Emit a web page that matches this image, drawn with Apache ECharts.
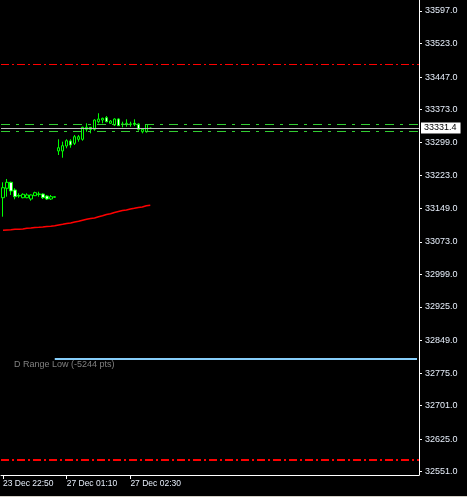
<!DOCTYPE html>
<html>
<head>
<meta charset="utf-8">
<script src="https://cdn.jsdelivr.net/npm/echarts@6/dist/echarts.min.js"></script>
<style>
html,body{margin:0;padding:0;background:#000;}
#chart{width:467px;height:497px;}
</style>
</head>
<body>
<div id="chart"></div>
<script>
// ---- data ----
const categories = [
  '23 Dec 22:50','23 Dec 22:55','23 Dec 23:00','23 Dec 23:05','23 Dec 23:10','23 Dec 23:15','23 Dec 23:20',
  '23 Dec 23:25','23 Dec 23:30','23 Dec 23:35','23 Dec 23:40','23 Dec 23:45','23 Dec 23:50','23 Dec 23:55',
  '27 Dec 01:00','27 Dec 01:05','27 Dec 01:10','27 Dec 01:15','27 Dec 01:20','27 Dec 01:25','27 Dec 01:30',
  '27 Dec 01:35','27 Dec 01:40','27 Dec 01:45','27 Dec 01:50','27 Dec 01:55','27 Dec 02:00','27 Dec 02:05',
  '27 Dec 02:10','27 Dec 02:15','27 Dec 02:20','27 Dec 02:25','27 Dec 02:30','27 Dec 02:35','27 Dec 02:40',
  '27 Dec 02:45','27 Dec 02:50','27 Dec 02:55'
];
const opens  = [33173.1,33194.5,33208.1,33190.6,33178.1,33173.1,33173.1,33170.2,33177.7,33181.5,33181.5,33177.0,33170.2,33174.0,
                33279.2,33279.2,33290.5,33301.9,33296.6,33305.7,33305.7,33328.4,33332.9,33328.4,33345.7,33349.5,33354.8,33342.0,
                33338.2,33351.8,33340.5,33339.8,33340.5,33342.0,33340.5,33322.9,33322.9,33330.2];
const closes = [33195.8,33208.1,33188.3,33175.4,33177.0,33180.8,33179.3,33179.3,33184.5,33180.8,33173.1,33170.2,33175.4,33175.4,
                33286.6,33291.2,33302.5,33292.8,33311.6,33311.6,33332.9,33332.9,33328.4,33349.5,33351.8,33353.4,33345.7,33347.3,
                33351.8,33336.6,33339.8,33342.0,33339.8,33339.8,33328.4,33328.4,33339.3,33331.4];
const lows   = [33130.0,33175.4,33179.3,33169.5,33173.1,33171.8,33171.8,33166.3,33177.0,33175.4,33170.2,33167.9,33167.9,33173.1,
                33270.1,33263.9,33285.3,33286.6,33292.8,33300.3,33302.5,33322.9,33319.3,33325.2,33342.0,33342.0,33344.3,33340.5,
                33335.9,33335.9,33332.9,33334.3,33334.3,33335.9,33325.2,33319.3,33320.7,33330.2];
const highs  = [33208.1,33215.6,33209.5,33194.5,33183.1,33183.1,33183.1,33180.4,33186.7,33186.7,33183.1,33179.3,33179.3,33176.3,
                33305.7,33300.3,33305.7,33305.7,33315.5,33315.5,33334.3,33342.0,33333.6,33351.1,33364.8,33354.8,33358.6,33349.5,
                33353.4,33353.4,33345.7,33351.1,33345.7,33351.1,33342.0,33330.7,33340.5,33332.5];
const maValues = [33099.3,33099.8,33100.2,33101.4,33101.6,33102.1,33103.6,33104.3,33105.5,33105.9,33106.6,33107.7,33108.2,33109.3,
                  33111.1,33112.7,33114.5,33115.7,33117.9,33119.5,33121.8,33124.1,33125.9,33127.0,33129.8,33132.3,33135.0,33136.6,
                  33139.5,33141.8,33144.1,33145.2,33147.5,33149.1,33150.9,33152.0,33154.8,33155.9];
const yTicks = [32551,32625,32701,32775,32849,32925,32999,33073,33149,33223,33299,33373,33447,33523,33597];
const xTickLabels = ['23 Dec 22:50','27 Dec 01:10','27 Dec 02:30'];
const levelRedTop = 33476.7;
const levelGreenTop = 33339.8;
const levelBid = 33331.4;
const levelGreenLow = 33323.9;
const levelRangeLow = 32808.0;
const levelRedLow = 32577.6;
const rangeLowText = 'D Range Low (-5244 pts)';
const bidText = '33331.4';

// ---- build ----
const TOTAL_SLOTS = 105;
const axisCats = categories.slice();
for (let i = axisCats.length; i < TOTAL_SLOTS; i++) axisCats.push('#' + i);
const candleData = opens.map((o, i) => [o, closes[i], lows[i], highs[i]]);
const showTick = (idx, name) => xTickLabels.indexOf(name) >= 0;
const FONT = 'Liberation Sans';

const chart = echarts.init(document.getElementById('chart'), null, {renderer: 'canvas'});
chart.setOption({
  backgroundColor: '#000000',
  animation: false,
  grid: {left: 0, right: 48, top: 0, bottom: 22, containLabel: false},
  xAxis: {
    type: 'category',
    data: axisCats,
    boundaryGap: true,
    axisLine: {lineStyle: {color: '#ffffff', width: 1}},
    axisTick: {show: true, alignWithLabel: true, interval: showTick, length: 4, lineStyle: {color: '#ffffff'}},
    axisLabel: {interval: showTick, align: 'left', margin: 4, color: '#e6eefa', fontSize: 8.5,
                fontFamily: FONT, lineHeight: 10},
    splitLine: {show: false}
  },
  yAxis: {
    type: 'value',
    position: 'right',
    min: 32543.5,
    max: 33622,
    scale: true,
    axisLine: {show: true, lineStyle: {color: '#ffffff', width: 1}},
    axisTick: {show: true, length: 3, customValues: yTicks, lineStyle: {color: '#ffffff'}},
    axisLabel: {customValues: yTicks, margin: 6, color: '#e6eefa', fontSize: 9, fontFamily: FONT,
                formatter: v => v.toFixed(1)},
    splitLine: {show: false}
  },
  series: [
    {
      type: 'line',
      name: 'MA',
      data: maValues,
      symbol: 'none',
      lineStyle: {color: '#ff0000', width: 1.5},
      z: 2
    },
    {
      type: 'candlestick',
      name: 'Price',
      data: candleData,
      barWidth: 3,
      itemStyle: {color: '#000000', color0: '#ffffff', borderColor: '#00ff00', borderColor0: '#00ff00', borderWidth: 1},
      z: 3,
      markLine: {
        silent: true,
        symbol: ['none', 'none'],
        animation: false,
        label: {show: false},
        data: [
          {yAxis: levelRedTop, lineStyle: {color: '#ff0000', width: 1, type: [8, 3, 2, 3]}},
          {yAxis: levelRedLow, lineStyle: {color: '#ff0000', width: 2, type: [8, 3, 2, 3]}},
          {yAxis: levelGreenTop, lineStyle: {color: '#32cd32', width: 1, type: [9, 6, 3, 6]}},
          {yAxis: levelGreenLow, lineStyle: {color: '#32cd32', width: 1, type: [9, 6, 3, 6]}},
          {yAxis: levelBid, lineStyle: {color: '#c0c0c0', width: 1, type: 'solid'},
           label: {show: true, position: 'end', distance: 2, formatter: bidText, backgroundColor: '#ffffff',
                   color: '#000000', fontSize: 9, fontFamily: FONT, lineHeight: 10, padding: [1, 4, 0, 3]}},
          [
            {coord: [categories[13], levelRangeLow], lineStyle: {color: '#87cefa', width: 2, type: 'solid'}},
            {coord: ['#104', levelRangeLow]}
          ]
        ]
      },
      markPoint: {
        silent: true,
        animation: false,
        data: [{
          coord: [categories[3], levelRangeLow],
          symbol: 'circle',
          symbolSize: 0,
          label: {show: true, position: 'right', distance: 0, offset: [-1, 6], formatter: rangeLowText,
                  color: '#808080', fontSize: 9, fontFamily: FONT}
        }]
      }
    }
  ],
  graphic: [
    {type: 'rect', left: 0, bottom: 0, shape: {width: 467, height: 1}, style: {fill: '#d4d0c8'}, silent: true}
  ]
});
</script>
</body>
</html>
